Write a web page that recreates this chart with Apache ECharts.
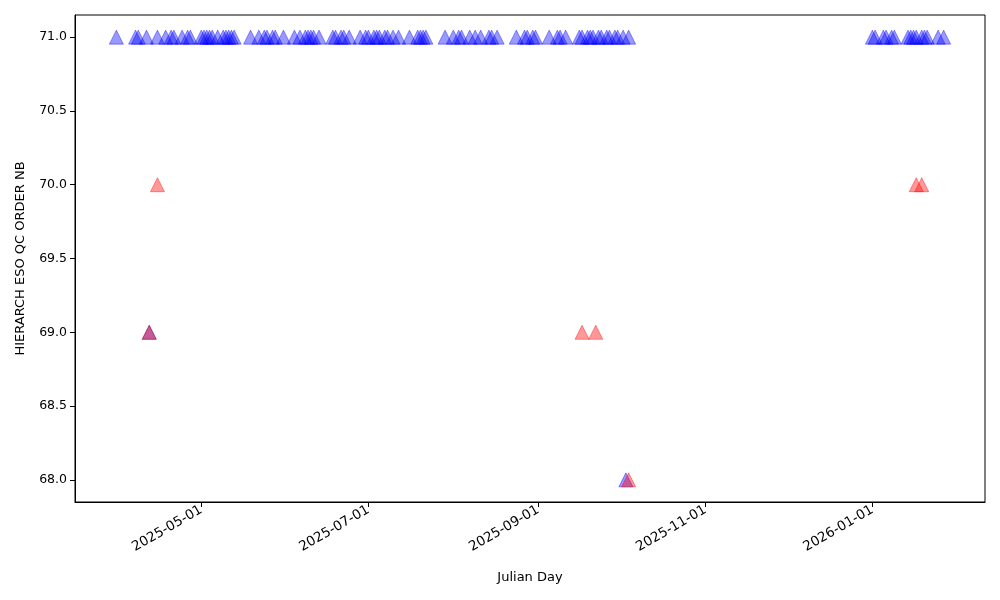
<!DOCTYPE html>
<html>
<head>
<meta charset="utf-8">
<script src="https://cdn.jsdelivr.net/npm/echarts@6/dist/echarts.min.js"></script>
<style>html,body{margin:0;padding:0;background:#fff}#c{width:1000px;height:600px}</style>
</head>
<body>
<div id="c"></div>
<script>
// Blue series: points at 71.0
const blueTopDates = [
 '2025-03-31','2025-04-07','2025-04-08','2025-04-11','2025-04-15','2025-04-18','2025-04-20','2025-04-21',
 '2025-04-24','2025-04-26','2025-04-27','2025-05-01','2025-05-02','2025-05-03','2025-05-04','2025-05-05',
 '2025-05-07','2025-05-09','2025-05-10','2025-05-11','2025-05-12','2025-05-13','2025-05-19','2025-05-22',
 '2025-05-24','2025-05-25','2025-05-27','2025-05-28','2025-05-31','2025-06-04','2025-06-06','2025-06-08',
 '2025-06-09','2025-06-10','2025-06-11','2025-06-13','2025-06-18','2025-06-19','2025-06-21','2025-06-22',
 '2025-06-24','2025-06-28','2025-06-30','2025-07-01','2025-07-03','2025-07-04','2025-07-05','2025-07-07',
 '2025-07-08','2025-07-10','2025-07-12','2025-07-16','2025-07-19','2025-07-20','2025-07-21','2025-07-22',
 '2025-07-29','2025-08-01','2025-08-03','2025-08-04','2025-08-07','2025-08-09','2025-08-11','2025-08-14',
 '2025-08-15','2025-08-17','2025-08-24','2025-08-27','2025-08-28','2025-08-30','2025-08-31','2025-09-05',
 '2025-09-08','2025-09-09','2025-09-11','2025-09-16','2025-09-17','2025-09-19','2025-09-20','2025-09-21',
 '2025-09-23','2025-09-24','2025-09-26','2025-09-27','2025-09-29','2025-09-30','2025-10-02','2025-10-04',
 '2026-01-01','2026-01-02','2026-01-05','2026-01-06','2026-01-08','2026-01-09','2026-01-14','2026-01-15',
 '2026-01-16','2026-01-17','2026-01-19','2026-01-20','2026-01-21','2026-01-25','2026-01-27'
];
// Blue series: other points
const blueOtherDates = ['2025-04-12','2025-10-03'];
const blueOtherValues = [69, 68];
// Red series
const redDates = ['2025-04-12','2025-04-15','2025-09-17','2025-09-22','2025-10-04','2026-01-17','2026-01-19'];
const redValues = [69, 70, 69, 69, 68, 70, 70];
// Ticks
const xTickDates = ['2025-05-01','2025-07-01','2025-09-01','2025-11-01','2026-01-01'];
const yTicks = [68.0, 68.5, 69.0, 69.5, 70.0, 70.5, 71.0];

const ts = s => Date.UTC(+s.slice(0,4), +s.slice(5,7) - 1, +s.slice(8,10));
const fmt = v => { const d = new Date(v); const p = n => String(n).padStart(2, '0');
  return d.getUTCFullYear() + '-' + p(d.getUTCMonth() + 1) + '-' + p(d.getUTCDate()); };
const blueData = blueTopDates.map(d => [ts(d), 71]).concat(blueOtherDates.map((d, i) => [ts(d), blueOtherValues[i]]));
const redData = redDates.map((d, i) => [ts(d), redValues[i]]);

const allX = blueData.concat(redData).map(p => p[0]);
const allY = blueData.concat(redData).map(p => p[1]);
const xMinD = Math.min(...allX), xMaxD = Math.max(...allX);
const yMinD = Math.min(...allY), yMaxD = Math.max(...allY);
const xPad = (xMaxD - xMinD) * 0.05, yPad = (yMaxD - yMinD) * 0.05;
const xTicks = xTickDates.map(ts);

const font = 'DejaVu Sans';
const chart = echarts.init(document.getElementById('c'));
chart.setOption({
  animation: false,
  backgroundColor: '#fff',
  grid: { left: 75, right: 15, top: 15, bottom: 98, show: true, borderColor: '#000', borderWidth: 1, backgroundColor: 'transparent' },
  xAxis: {
    type: 'value',
    min: xMinD - xPad, max: xMaxD + xPad,
    name: 'Julian Day', nameLocation: 'middle', nameGap: 69,
    nameTextStyle: { fontFamily: font, fontSize: 13, color: '#000' },
    axisLine: { show: true, lineStyle: { color: '#000', width: 1 } },
    axisTick: { show: true, length: 5, lineStyle: { color: '#000' }, customValues: xTicks },
    axisLabel: { customValues: xTicks, rotate: 30, fontFamily: font, fontSize: 13.5, color: '#000', margin: 7, formatter: v => fmt(v) },
    splitLine: { show: false }
  },
  yAxis: {
    type: 'value',
    min: yMinD - yPad, max: yMaxD + yPad,
    name: 'HIERARCH ESO QC ORDER NB', nameLocation: 'middle', nameGap: 48,
    nameTextStyle: { fontFamily: font, fontSize: 13, color: '#000' },
    axisLine: { show: true, lineStyle: { color: '#000', width: 1 } },
    axisTick: { show: true, length: 5, lineStyle: { color: '#000' }, customValues: yTicks },
    axisLabel: { customValues: yTicks, fontFamily: font, fontSize: 12.5, color: '#000', margin: 8, formatter: v => v.toFixed(1) },
    splitLine: { show: false }
  },
  series: [
    { type: 'scatter', data: blueData, symbol: 'triangle', symbolSize: 14,
      itemStyle: { color: 'rgba(0,0,255,0.5)', borderColor: 'rgba(0,0,255,0.5)', borderWidth: 1 } },
    { type: 'scatter', data: redData, symbol: 'triangle', symbolSize: 14,
      itemStyle: { color: 'rgba(255,0,0,0.5)', borderColor: 'rgba(255,0,0,0.5)', borderWidth: 1 } }
  ]
});
</script>
</body>
</html>
